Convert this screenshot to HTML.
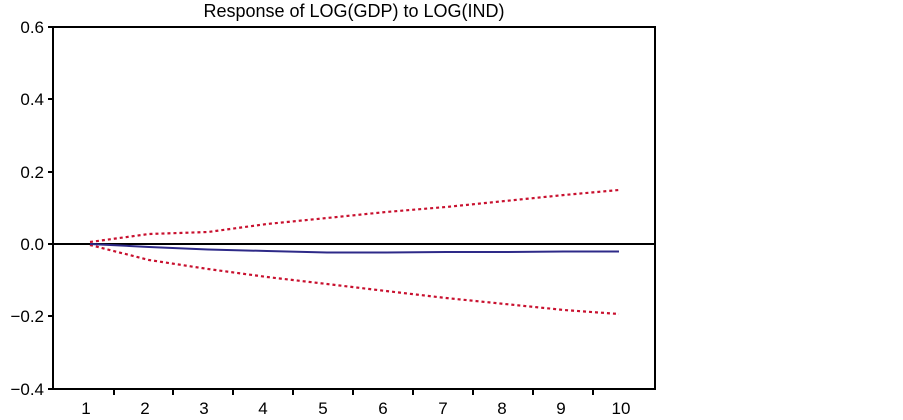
<!DOCTYPE html>
<html><head><style>body{margin:0;background:#fff}svg{display:block}</style></head><body>
<svg width="903" height="420" xmlns="http://www.w3.org/2000/svg" font-family="Liberation Sans, sans-serif">
<rect x="0" y="0" width="903" height="420" fill="#fff"/>
<text x="354" y="17" font-size="18" text-anchor="middle">Response of LOG(GDP) to LOG(IND)</text>
<rect x="53" y="27" width="602" height="362" fill="none" stroke="#000" stroke-width="2"/>
<g stroke="#000" stroke-width="2">
<line x1="48" y1="27" x2="53" y2="27"/><line x1="48" y1="99" x2="53" y2="99"/><line x1="48" y1="172" x2="53" y2="172"/><line x1="48" y1="244" x2="53" y2="244"/><line x1="48" y1="316" x2="53" y2="316"/><line x1="48" y1="389" x2="53" y2="389"/>
<line x1="53" y1="244" x2="655" y2="244"/>
<line x1="114" y1="389" x2="114" y2="395"/><line x1="173" y1="389" x2="173" y2="395"/><line x1="233" y1="389" x2="233" y2="395"/><line x1="293" y1="389" x2="293" y2="395"/><line x1="353" y1="389" x2="353" y2="395"/><line x1="413" y1="389" x2="413" y2="395"/><line x1="473" y1="389" x2="473" y2="395"/><line x1="533" y1="389" x2="533" y2="395"/><line x1="593" y1="389" x2="593" y2="395"/>
</g>
<g font-size="17" text-anchor="end">
<text x="44" y="33">0.6</text><text x="44" y="105">0.4</text><text x="44" y="178">0.2</text><text x="44" y="250">0.0</text><text x="44" y="322">−0.2</text><text x="44" y="395">−0.4</text>
</g>
<g font-size="17" text-anchor="middle">
<text x="86" y="414">1</text><text x="145" y="414">2</text><text x="204" y="414">3</text><text x="263" y="414">4</text><text x="323" y="414">5</text><text x="383" y="414">6</text><text x="443" y="414">7</text><text x="502" y="414">8</text><text x="561" y="414">9</text><text x="621" y="414">10</text>
</g>
<g fill="none" stroke="#c8102e" stroke-width="2.2" stroke-dasharray="3,3">
<polyline points="90,242 149,234 208,232 267,224 327,218 386,212 446,207 505,201 564,195 619,190"/>
<polyline points="90,245 149,260 208,269 267,277 327,284 386,291 446,298 505,304 564,310 619,314"/>
</g>
<polyline fill="none" stroke="#2e2a88" stroke-width="2" points="90,244 149,247 208,249.5 267,251 327,252.5 386,252.5 446,252 505,252 564,251.5 619,251.5"/>
</svg>
</body></html>
